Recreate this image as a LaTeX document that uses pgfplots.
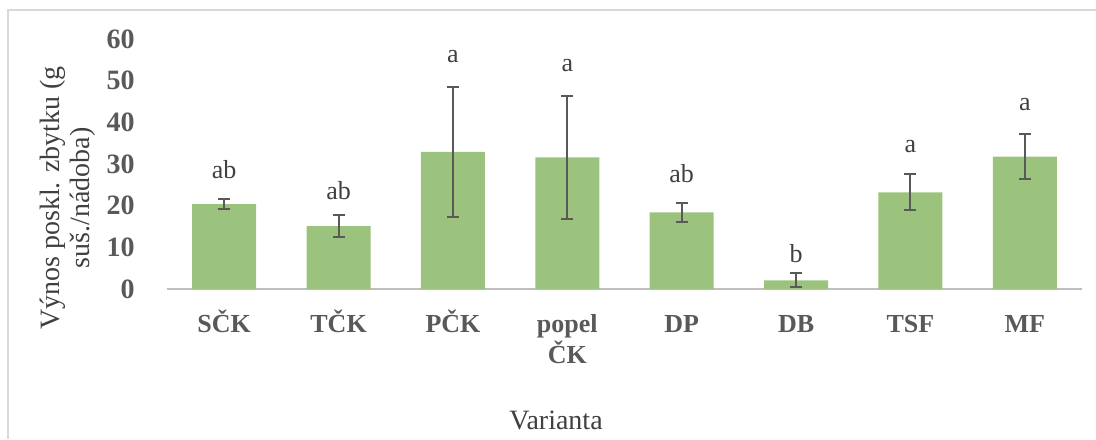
\documentclass[border=0pt]{standalone}
\usepackage{fontspec}
\setmainfont{Liberation Serif}
\usepackage{pgfplots}
\usepackage{pgfplotstable}
\pgfplotsset{compat=1.18}
\definecolor{bargreen}{RGB}{155,195,125}
\definecolor{errgray}{RGB}{89,89,89}
\definecolor{tickgray}{RGB}{89,89,89}
\definecolor{labgray}{RGB}{64,64,64}
\definecolor{axgray}{RGB}{191,191,191}
\definecolor{framegray}{RGB}{217,217,217}
\pgfplotstableread{
x y e ly lab
0 20.4 1.2 26.4 ab
1 15.1 2.65 21.3 ab
2 32.9 15.5 54.3 a
3 31.6 14.8 52.1 a
4 18.4 2.3 25.5 ab
5 2.1 1.7 6.2 b
6 23.2 4.35 32.6 a
7 31.8 5.3 42.8 a
}\data
\begin{document}
\begin{tikzpicture}
\path[use as bounding box] (0,0) rectangle (548pt,219.5pt);
\draw[framegray, line width=0.8pt] (4pt,0) -- (4pt,214.5pt) -- (548pt,214.5pt);
\begin{axis}[
  at={(83.5pt,75pt)}, anchor=south west,
  width=457.5pt, height=125pt, scale only axis,
  xmin=-0.5, xmax=7.5, ymin=0, ymax=60,
  axis lines=left, axis line style={-},
  y axis line style={draw=none},
  x axis line style={axgray, line width=1pt},
  major tick length=0pt,
  xtick={0,...,7},
  xticklabels={SČK, TČK, PČK, {\begin{tabular}[t]{@{}c@{}}popel\\[-0.5pt]ČK\end{tabular}}, DP, DB, TSF, MF},
  ytick={0,10,...,60},
  /pgf/number format/assume math mode=true,
  yticklabel style={font=\fontsize{14pt}{16pt}\selectfont\bfseries, text=tickgray, anchor=east, inner sep=0pt, xshift=-16pt},
  xticklabel style={font=\fontsize{13pt}{16pt}\selectfont\bfseries, text=tickgray, anchor=base, inner sep=0pt, yshift=-21.5pt},
  clip=false,
]
\addplot[ybar, bar width=32pt, fill=bargreen, draw=none,
  error bars/.cd, y dir=both, y explicit,
  error bar style={errgray, line width=1pt},
  error mark options={errgray, line width=1pt, mark size=3pt, rotate=90}]
  table[x=x, y=y, y error=e] {\data};
\addplot[draw=none, mark=none, nodes near coords, point meta=explicit symbolic,
  nodes near coords style={anchor=south, inner sep=0pt, font=\fontsize{13pt}{15pt}\selectfont, text=labgray}]
  table[x=x, y=ly, meta=lab] {\data};
\end{axis}
\node[rotate=90, align=center, font=\fontsize{14pt}{15pt}\selectfont, text=labgray] at (34pt,120.5pt) {Výnos poskl. zbytku (g\\suš./nádoba)};
\node[anchor=base, font=\fontsize{14pt}{16pt}\selectfont, text=labgray] at (278pt,5pt) {Varianta};
\end{tikzpicture}
\end{document}
